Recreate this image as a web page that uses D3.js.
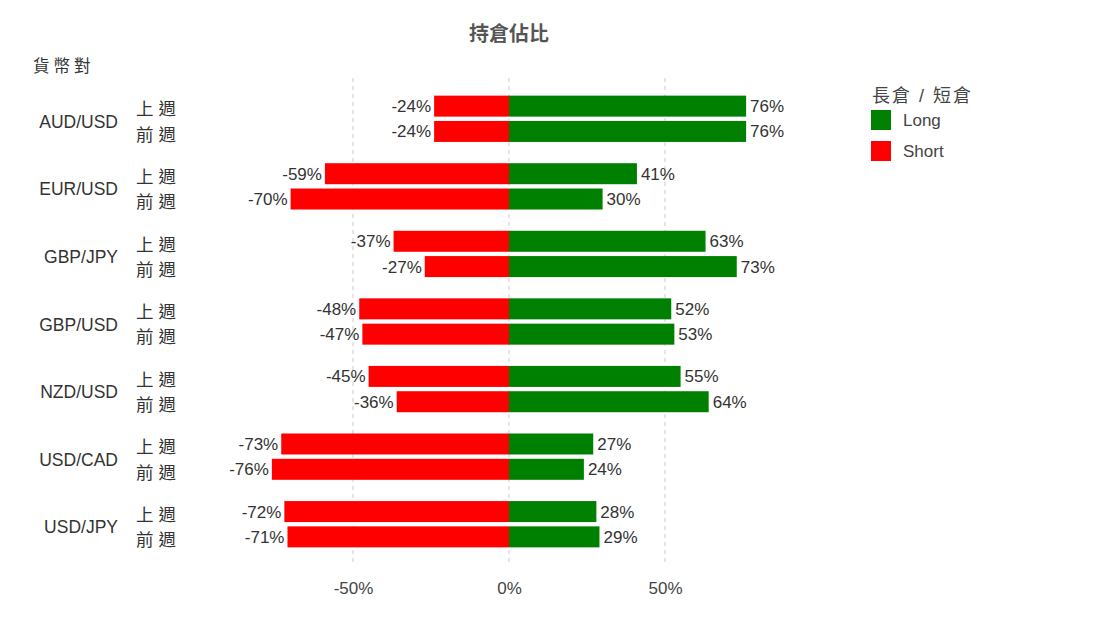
<!DOCTYPE html>
<html><head><meta charset="utf-8">
<script src="https://cdn.jsdelivr.net/npm/d3@7"></script>
<style>
body{margin:0;background:#fff;}
text{font-family:"Liberation Sans",Arial,"Noto Sans CJK TC",sans-serif;}
.cjk{font-family:"Liberation Sans","Noto Sans CJK TC",sans-serif;}
</style></head>
<body>
<svg id="c" width="1099" height="630"></svg>
<script>
const pairs = ["AUD/USD","EUR/USD","GBP/JPY","GBP/USD","NZD/USD","USD/CAD","USD/JPY"];
const weeks = ["上週","前週"];
const longLast = [76,41,63,52,55,27,28];
const longPrev = [76,30,73,53,64,24,29];
const shortLast = [-24,-59,-37,-48,-45,-73,-72];
const shortPrev = [-24,-70,-27,-47,-36,-76,-71];
const ticks = [-50,0,50];

const svg = d3.select("#c");
const x = d3.scaleLinear().domain([-100,100]).range([197,821]);
const yGroup = d3.scaleBand().domain(pairs).range([85,558]).paddingInner(0).paddingOuter(0);
const yWeek = d3.scaleBand().domain(weeks).range([0,yGroup.bandwidth()]).paddingInner(0.17).paddingOuter(0.42);

const rows = [];
pairs.forEach((p,i)=>{
  rows.push({pair:p,week:weeks[0],long:longLast[i],short:shortLast[i]});
  rows.push({pair:p,week:weeks[1],long:longPrev[i],short:shortPrev[i]});
});
const yOf = d=> yGroup(d.pair)+yWeek(d.week);

// grid
svg.append("g").selectAll("line").data(ticks).join("line")
  .attr("x1",d=>x(d)).attr("x2",d=>x(d)).attr("y1",78).attr("y2",565)
  .attr("stroke","#ccc").attr("stroke-dasharray","4,4").attr("stroke-width",1);

// axis
const ax = svg.append("g").attr("transform","translate(0,576)")
  .call(d3.axisBottom(x).tickValues(ticks).tickFormat(d=>d+"%").tickSize(0).tickPadding(6));
ax.select(".domain").remove();
ax.selectAll("text").attr("font-size",17).attr("fill","#444")
  .style("font-family","'Liberation Sans',Arial,sans-serif");

// bars
const g = svg.append("g");
g.selectAll("rect.s").data(rows).join("rect").attr("class","s")
  .attr("x",d=>x(d.short)).attr("width",d=>x(0)-x(d.short))
  .attr("y",yOf).attr("height",yWeek.bandwidth()).attr("fill","#ff0000");
g.selectAll("rect.l").data(rows).join("rect").attr("class","l")
  .attr("x",x(0)).attr("width",d=>x(d.long)-x(0))
  .attr("y",yOf).attr("height",yWeek.bandwidth()).attr("fill","#008000");

// labels
g.selectAll("text.sl").data(rows).join("text").attr("class","sl")
  .attr("x",d=>x(d.short)-3).attr("y",d=>yOf(d)+yWeek.bandwidth()/2)
  .attr("dy","0.35em").attr("text-anchor","end").attr("font-size",17).attr("fill","#333")
  .text(d=>d.short+"%");
g.selectAll("text.ll").data(rows).join("text").attr("class","ll")
  .attr("x",d=>x(d.long)+4).attr("y",d=>yOf(d)+yWeek.bandwidth()/2)
  .attr("dy","0.35em").attr("text-anchor","start").attr("font-size",17).attr("fill","#333")
  .text(d=>d.long+"%");

// category labels
svg.append("g").selectAll("text").data(pairs).join("text")
  .attr("x",118).attr("y",d=>yGroup(d)+yGroup.bandwidth()/2+3)
  .attr("dy","0.35em").attr("text-anchor","end").attr("font-size",17.5).attr("fill","#333")
  .text(d=>d);
svg.append("g").selectAll("text").data(rows).join("text").attr("class","cjk")
  .attr("x",136).attr("y",d=>yOf(d)+yWeek.bandwidth()/2+3)
  .attr("dy","0.36em").attr("text-anchor","start").attr("font-size",17.5).attr("fill","#333")
  .attr("letter-spacing","5px")
  .text(d=>d.week);

// title
svg.append("text").attr("class","cjk").attr("x",509).attr("y",41).attr("text-anchor","middle")
  .attr("font-size",20).attr("font-weight","bold").attr("fill","#555").text("持倉佔比");
svg.append("text").attr("class","cjk").attr("x",33).attr("y",72)
  .attr("font-size",16.5).attr("fill","#333").attr("letter-spacing","4px").text("貨幣對");

// legend
svg.append("text").attr("class","cjk").attr("x",872).attr("y",102)
  .attr("font-size",18).attr("fill","#444").attr("letter-spacing","2px").text("長倉 / 短倉");
const leg = [{k:"Long",c:"#008000"},{k:"Short",c:"#ff0000"}];
const lg = svg.append("g").selectAll("g").data(leg).join("g")
  .attr("transform",(d,i)=>`translate(871,${110+i*31})`);
lg.append("rect").attr("width",20).attr("height",20).attr("fill",d=>d.c);
lg.append("text").attr("x",32).attr("y",10).attr("dy","0.35em").attr("font-size",17)
  .attr("fill","#444").text(d=>d.k);
</script>
</body></html>
